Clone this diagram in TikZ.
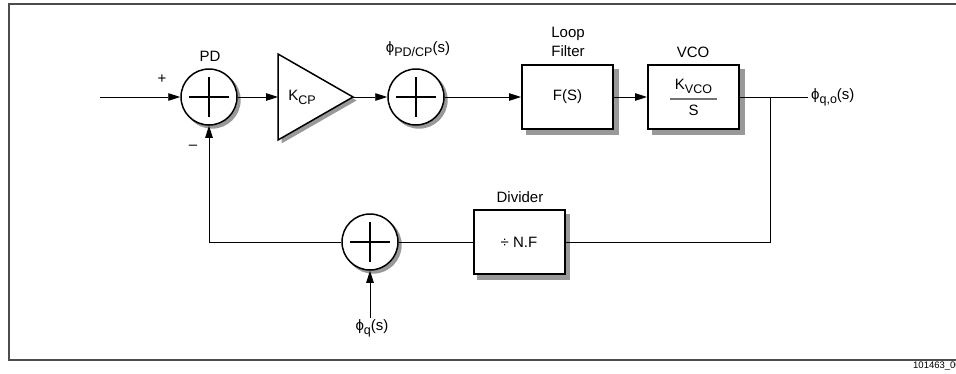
\documentclass[tikz,border=0pt]{standalone}
\usepackage{fontspec}
\setmainfont{Liberation Sans}
\usetikzlibrary{arrows.meta,calc,backgrounds}
\newcommand\lowsub[1]{\raisebox{-0.5ex}{\fontsize{12.5}{12.5}\selectfont #1}}
\begin{document}
\begin{tikzpicture}[x=1pt,y=-1pt,
  every node/.style={font=\fontsize{15}{18.5}\selectfont,inner sep=0pt},
  wire/.style={line width=0.9pt},
  arr/.style={wire,-{Triangle[length=12pt,width=7.5pt]}},
  shadowc/.style={fill=black!40},
  sumnode/.style={circle,draw,line width=1.5pt,fill=white,minimum size=56pt},
  blk/.style={rectangle,draw,line width=2pt,fill=white,minimum width=91pt,minimum height=64pt},
  plusarm/.style={line width=1.5pt}]
\useasboundingbox (0,0) rectangle (956,373);
\clip (0,0) rectangle (956,373);
% frame
\draw[line width=1.4pt,black!70] (9,4) rectangle (975,360);
\node[anchor=west,font=\fontsize{9.5}{9.5}\selectfont] (tag) at (913,366) {101463\_00};

% coordinates
\coordinate (in) at (100,97);
\coordinate (branch) at (770,97);
\coordinate (out) at (808,97);
\coordinate (fbc) at (770,242);
\coordinate (phiq) at (370,318);

% summing junctions
\node[sumnode] (s1) at (209,97) {};
\node[sumnode] (s2) at (416,97) {};
\node[sumnode] (s3) at (370,242) {};
\foreach \s in {s1,s2,s3}{
  \draw[plusarm] ($(\s.center)+(-20,0)$) -- ($(\s.center)+(20,0)$);
  \draw[plusarm] ($(\s.center)+(0,-20)$) -- ($(\s.center)+(0,20)$);
}

% amplifier triangle
\fill[shadowc] (281.5,57.5) -- (356.5,100.5) -- (281.5,143.5) -- cycle;
\draw[line width=1.5pt,fill=white] (278,54) -- (353,97) -- (278,140) -- cycle;
\coordinate (ampin) at (278,97);
\coordinate (ampout) at (353,97);
\node (kcp) at (302,97) {K\lowsub{CP}};

% blocks
\node[blk] (lf) at (567.5,97) {F(S)};
\node[blk] (vco) at (693.5,97) {};
\node[blk] (div) at (519,242) {÷ N.F};
\node (kvco) at (693.5,86) {K\lowsub{VCO}};
\node (svco) at (693.5,110) {S};
\draw[line width=1.2pt,black!55] (670,99) -- (717,99);

% shadows
\begin{scope}[on background layer]
  \foreach \s in {s1,s2,s3}{\fill[shadowc] ($(\s.center)+(3,3)$) circle (28.7pt);}
  \foreach \b in {lf,vco,div}{\fill[shadowc] ($(\b.south west)+(4.5,4.5)$) rectangle ($(\b.north east)+(4.5,4.5)$);}
\end{scope}

% labels
\node (pl) at (162,79) {+};
\node (mi) at (193,147) {–};
\node (pd) at (210,56) {PD};
\node (phipd) at (418,49) {ϕ\lowsub{PD/CP}(s)};
\node[align=center] (lfl) at (568,42) {Loop\\Filter};
\node (vcol) at (693,52) {VCO};
\node (divl) at (520,197) {Divider};
\node[anchor=west] (phiqo) at (811,97) {ϕ\lowsub{q,o}(s)};
\node (phiql) at (372,328) {ϕ\lowsub{q}(s)};

% connectors
\draw[arr] (in) -- (s1.west);
\draw[arr] (s1.east) -- (ampin);
\draw[arr] (ampout) -- (s2.west);
\draw[arr] (s2.east) -- (lf.west);
\draw[arr] (lf.east) -- (vco.west);
\draw[wire] (vco.east) -- (out);
\draw[wire] (branch) -- (fbc) -- (div.east);
\draw[wire] (div.west) -- (s3.east);
\draw[arr] (s3.west) -| (s1.south);
\draw[arr] (phiq) -- (s3.south);
\end{tikzpicture}
\end{document}
